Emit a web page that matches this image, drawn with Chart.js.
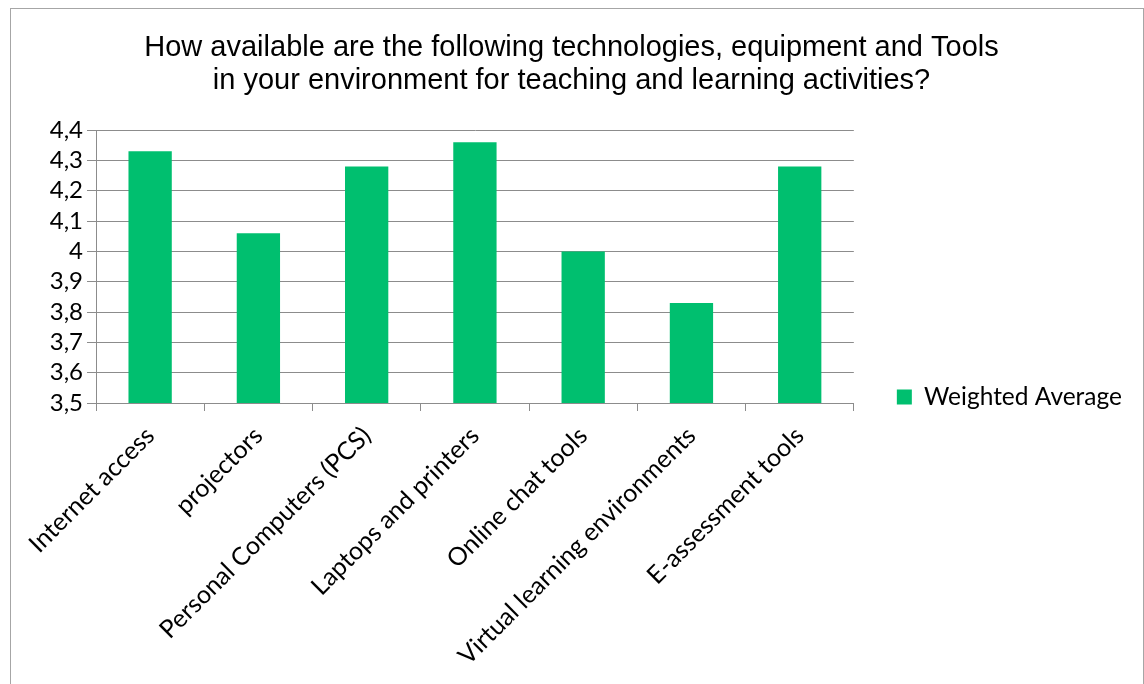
<!DOCTYPE html>
<html>
<head>
<meta charset="utf-8">
<script src="https://cdn.jsdelivr.net/npm/chart.js@4/dist/chart.umd.min.js"></script>
<style>
  html, body { margin: 0; padding: 0; background: #fff; overflow: hidden; }
  #frame {
    position: absolute; left: 10px; top: 8px; width: 1132px; height: 700px;
    border: 1px solid #a6a6a6; border-bottom: none; overflow: hidden;
  }
</style>
</head>
<body>
<div id="frame"><canvas id="chart" width="1132" height="776"></canvas></div>
<script>
const categories = [
  'Internet access',
  'projectors',
  'Personal Computers (PCS)',
  'Laptops and printers',
  'Online chat tools',
  'Virtual learning environments',
  'E-assessment tools'
];
const weightedAverage = [4.33, 4.06, 4.28, 4.36, 4.00, 3.83, 4.28];
const seriesName = 'Weighted Average';
const titleLines = [
  'How available are the following technologies, equipment and Tools',
  'in your environment for teaching and learning activities?'
];
const yMin = 3.5, yMax = 4.4, yStep = 0.1;

const green = '#00BF6F';
const gridGray = '#8c8c8c';
const labelFont = "Lato, 'Noto Sans', sans-serif";

const ctx = document.getElementById('chart').getContext('2d');
const chart = new Chart(ctx, {
  type: 'bar',
  data: {
    labels: categories,
    datasets: [{
      label: seriesName,
      data: weightedAverage,
      backgroundColor: green,
      borderWidth: 0,
      categoryPercentage: 1,
      barPercentage: 0.4
    }]
  },
  options: {
    responsive: false,
    animation: false,
    layout: { padding: { right: 11 } },
    plugins: {
      title: {
        display: true,
        text: titleLines,
        color: '#000',
        font: { family: "'Liberation Sans', Arial, sans-serif", size: 29, weight: 'normal', lineHeight: 1.14 },
        padding: { top: 22, bottom: 33 }
      },
      legend: {
        position: 'right',
        maxWidth: 289,
        labels: {
          color: '#000',
          boxWidth: 15,
          boxHeight: 15,
          padding: 43,
          font: { family: labelFont, size: 24.5 }
        }
      },
      tooltip: { enabled: false }
    },
    scales: {
      x: {
        grid: { display: true, drawOnChartArea: false, drawTicks: true, tickLength: 8, color: gridGray, offset: true },
        border: { color: gridGray },
        ticks: {
          color: '#000',
          maxRotation: 45,
          minRotation: 45,
          autoSkip: false,
          padding: 10,
          font: { family: labelFont, size: 25 }
        },
        afterFit: s => { s.height = 382; }
      },
      y: {
        min: yMin,
        max: yMax,
        grid: { color: gridGray, tickLength: 9 },
        border: { color: gridGray },
        ticks: {
          stepSize: yStep,
          autoSkip: false,
          color: '#000',
          padding: 4,
          font: { family: labelFont, size: 24 },
          callback: v => String(Math.round(v * 10) / 10).replace('.', ',')
        },
        afterFit: s => { s.width = 85; }
      }
    }
  }
});
</script>
</body>
</html>
